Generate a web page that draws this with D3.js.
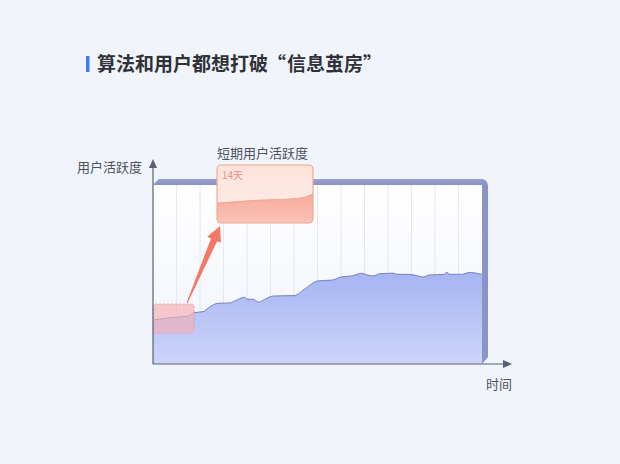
<!DOCTYPE html>
<html lang="zh-CN">
<head>
<meta charset="utf-8">
<script src="https://cdn.jsdelivr.net/npm/d3@7"></script>
<style>
  html, body { margin: 0; padding: 0; background: #f1f4fb; }
  svg { display: block; font-family: "Noto Sans CJK SC", "Noto Sans", sans-serif; }
</style>
</head>
<body>
<div id="chart"></div>
<script>
// data: day index and user activity (0-100)
var days = [0, 6, 12, 14, 17, 19, 22, 26, 29, 31, 32, 34, 36, 38, 41, 48, 52, 56, 61, 64, 68, 71, 73, 75, 77, 82, 83, 87, 90, 92, 94, 99, 100, 101, 105, 108, 110, 112];
var activity = [24.6, 25.9, 26.8, 28.7, 29.2, 31.5, 33.9, 34.1, 36.1, 37.3, 36.3, 36.1, 34.6, 36.1, 38.0, 38.2, 42.3, 46.4, 46.9, 48.6, 49.3, 50.7, 49.7, 49.2, 50.4, 50.7, 50.1, 50.1, 49.3, 48.6, 49.7, 50.1, 51.2, 50.1, 50.1, 51.2, 50.7, 50.1];
var shortWindow = 14; // days shown in the zoom box
var gridCount = 14;

var titleMain = "算法和用户都想打破",
    titleQuoted = "信息茧房",
    yLabel = "用户活跃度",
    xLabel = "时间",
    zoomTitle = "短期用户活跃度",
    zoomLabel = shortWindow + "天";

var data = days.map(function(d, i) { return { day: d, v: activity[i] }; });

var width = 620,
    height = 464,
    pLeft = 153, pRight = 482, pTop = 185, pBottom = 364;

var svg = d3.select("#chart").append("svg")
    .attr("width", width)
    .attr("height", height);

var defs = svg.append("defs");

function vGrad(id, stops, horiz) {
  var g = defs.append("linearGradient").attr("id", id)
      .attr("x1", 0).attr("y1", 0)
      .attr("x2", horiz ? 1 : 0).attr("y2", horiz ? 0 : 1);
  stops.forEach(function(s) {
    g.append("stop").attr("offset", s[0]).attr("stop-color", s[1]);
  });
}
vGrad("areaGrad", [["0%", "#a6b5f3"], ["100%", "#ccd5f8"]]);
vGrad("innerGrad", [["0%", "#ffffff"], ["100%", "#f0f3fc"]]);
vGrad("sideGrad", [["0%", "#a3abdf"], ["55%", "#b6beec"], ["100%", "#8a93c6"]], true);
vGrad("topGrad", [["0%", "#9aa2d2"], ["100%", "#8890c3"]]);
vGrad("zoomTop", [["0%", "#fde2d8"], ["100%", "#fdf0ea"]]);
vGrad("zoomArea", [["0%", "#f6aa9b"], ["100%", "#fbc4b8"]]);

var x = d3.scaleLinear().domain([0, 112]).range([pLeft, pRight]);
var y = d3.scaleLinear().domain([0, 100]).range([pBottom, pTop]);

// title (quotes placed as full-width marks)
var fs = 19, tx = 97;
svg.append("rect")
    .attr("x", 86).attr("y", 56).attr("width", 3.5).attr("height", 16)
    .attr("fill", "#3b7cf5");
function titleText(xp, anchor, s) {
  svg.append("text")
      .attr("x", xp).attr("y", 71)
      .attr("text-anchor", anchor)
      .attr("font-size", fs).attr("font-weight", "bold")
      .attr("fill", "#303238")
      .text(s);
}
titleText(tx, "start", titleMain);
titleText(tx + 10 * fs - 1, "end", "“");
titleText(tx + 10 * fs, "start", titleQuoted);
titleText(tx + 14 * fs, "start", "”");

// 3D frame behind the plot
svg.append("path")
    .attr("d", "M" + pLeft + "," + pTop + " L" + (pLeft + 6) + "," + (pTop - 6) +
      " L" + pRight + "," + (pTop - 6) +
      " A7,7 0 0 1 " + (pRight + 6) + "," + (pTop + 1) +
      " L" + (pRight + 6) + "," + (pBottom - 7) +
      " L" + pRight + "," + pBottom + " L" + pRight + "," + pTop + " Z")
    .attr("fill", "url(#sideGrad)");
svg.append("path")
    .attr("d", "M" + pLeft + "," + pTop + " L" + (pLeft + 6) + "," + (pTop - 6) +
      " L" + pRight + "," + (pTop - 6) + " L" + (pRight + 4) + "," + (pTop - 4) +
      " L" + pRight + "," + pTop + " Z")
    .attr("fill", "url(#topGrad)");

svg.append("rect")
    .attr("x", pLeft).attr("y", pTop)
    .attr("width", pRight - pLeft).attr("height", pBottom - pTop)
    .attr("fill", "url(#innerGrad)");

// vertical grid lines
var gx = d3.scaleLinear().domain([0, gridCount]).range([pLeft, pRight]);
svg.append("g").selectAll("line")
    .data(d3.range(1, gridCount))
  .enter().append("line")
    .attr("x1", function(d) { return gx(d); })
    .attr("x2", function(d) { return gx(d); })
    .attr("y1", pTop).attr("y2", pBottom)
    .attr("stroke", "#e0e2ed")
    .attr("stroke-width", 0.8);

// area + line
var area = d3.area()
    .x(function(d) { return x(d.day); })
    .y0(pBottom)
    .y1(function(d) { return y(d.v); })
    .curve(d3.curveMonotoneX);
var line = d3.line()
    .x(function(d) { return x(d.day); })
    .y(function(d) { return y(d.v); })
    .curve(d3.curveMonotoneX);

svg.append("path").datum(data)
    .attr("d", area)
    .attr("fill", "url(#areaGrad)");
svg.append("path").datum(data)
    .attr("d", line)
    .attr("fill", "none")
    .attr("stroke", "#7580be")
    .attr("stroke-width", 1);

// short-window highlight
svg.append("rect")
    .attr("x", x(0)).attr("y", 304)
    .attr("width", x(shortWindow) - x(0)).attr("height", 29)
    .attr("rx", 2)
    .attr("fill", "#f4adb4").attr("fill-opacity", 0.65)
    .attr("stroke", "#ee97a1").attr("stroke-dasharray", "2,2")
    .attr("stroke-width", 0.8);

// axes
var axisColor = "#5b6075";
svg.append("line")
    .attr("x1", pLeft).attr("x2", pLeft).attr("y1", pBottom).attr("y2", 166)
    .attr("stroke", axisColor).attr("stroke-width", 1.2);
svg.append("path")
    .attr("d", "M" + pLeft + ",159 L" + (pLeft - 4) + ",168 L" + (pLeft + 4) + ",168 Z")
    .attr("fill", axisColor);
svg.append("line")
    .attr("x1", pLeft).attr("x2", 504).attr("y1", pBottom).attr("y2", pBottom)
    .attr("stroke", axisColor).attr("stroke-width", 1.2);
svg.append("path")
    .attr("d", "M512," + pBottom + " L503," + (pBottom - 4) + " L503," + (pBottom + 4) + " Z")
    .attr("fill", axisColor);

svg.append("text")
    .attr("x", 142).attr("y", 172).attr("text-anchor", "end")
    .attr("font-size", 13).attr("fill", "#4d5160")
    .text(yLabel);
svg.append("text")
    .attr("x", 512).attr("y", 389).attr("text-anchor", "end")
    .attr("font-size", 13).attr("fill", "#4d5160")
    .text(xLabel);

// arrow from the highlight to the zoom box
var ax0 = 187, ay0 = 303, ax1 = 220, ay1 = 226;
var ang = Math.atan2(ay1 - ay0, ax1 - ax0),
    nx = -Math.sin(ang), ny = Math.cos(ang),
    ux = Math.cos(ang), uy = Math.sin(ang),
    headLen = 15, headW = 7.5, neckW = 3.4;
var hx = ax1 - ux * headLen, hy = ay1 - uy * headLen;
svg.append("path")
    .attr("d", "M" + (ax0 + nx * 0.5) + "," + (ay0 + ny * 0.5) +
      " L" + (hx + nx * neckW) + "," + (hy + ny * neckW) +
      " L" + (hx + nx * headW) + "," + (hy + ny * headW) +
      " L" + ax1 + "," + ay1 +
      " L" + (hx - nx * headW) + "," + (hy - ny * headW) +
      " L" + (hx - nx * neckW) + "," + (hy - ny * neckW) +
      " L" + (ax0 - nx * 0.5) + "," + (ay0 - ny * 0.5) + " Z")
    .attr("fill", "#f07a64");

// zoom box
var zx0 = 217, zx1 = 313, zy0 = 165, zy1 = 223;
var zx = d3.scaleLinear().domain([0, shortWindow]).range([zx0, zx1]);
var zy = d3.scaleLinear().domain([15.5, 42]).range([zy1, zy0]);
var shortData = data.filter(function(d) { return d.day <= shortWindow; });

svg.append("clipPath").attr("id", "zoomClip")
  .append("rect")
    .attr("x", zx0).attr("y", zy0).attr("width", zx1 - zx0).attr("height", zy1 - zy0)
    .attr("rx", 4);

var zg = svg.append("g");
zg.append("rect")
    .attr("x", zx0).attr("y", zy0).attr("width", zx1 - zx0).attr("height", zy1 - zy0)
    .attr("rx", 4).attr("fill", "url(#zoomTop)");
zg.append("path").datum(shortData)
    .attr("clip-path", "url(#zoomClip)")
    .attr("d", d3.area()
      .x(function(d) { return zx(d.day); })
      .y0(zy1)
      .y1(function(d) { return zy(d.v); })
      .curve(d3.curveMonotoneX))
    .attr("fill", "url(#zoomArea)");
zg.append("path").datum(shortData)
    .attr("d", d3.line()
      .x(function(d) { return zx(d.day); })
      .y(function(d) { return zy(d.v); })
      .curve(d3.curveMonotoneX))
    .attr("fill", "none").attr("stroke", "#ee9c8c").attr("stroke-width", 0.8);
zg.append("rect")
    .attr("x", zx0).attr("y", zy0).attr("width", zx1 - zx0).attr("height", zy1 - zy0)
    .attr("rx", 4).attr("fill", "none")
    .attr("stroke", "#f2a796").attr("stroke-width", 1.2);
zg.append("text")
    .attr("x", zx0 + 5).attr("y", zy0 + 14)
    .attr("font-size", 10).attr("fill", "#eb8f8f")
    .text(zoomLabel);

svg.append("text")
    .attr("x", zx0).attr("y", 158)
    .attr("font-size", 13).attr("fill", "#4d5160")
    .text(zoomTitle);
</script>
</body>
</html>
